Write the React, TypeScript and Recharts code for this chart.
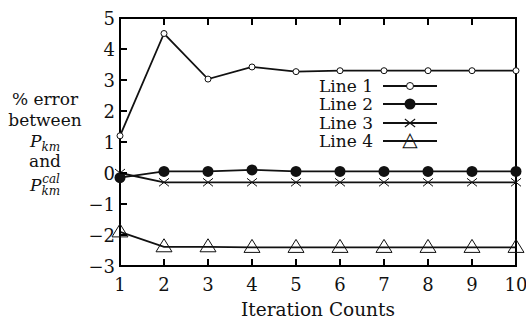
import React from "react";
import { LineChart, Line, XAxis, YAxis, Legend, ReferenceArea } from "recharts";

// iteration counts on the x axis
const iterations = [1, 2, 3, 4, 5, 6, 7, 8, 9, 10];
const line1 = [1.2, 4.5, 3.03, 3.42, 3.27, 3.3, 3.3, 3.3, 3.3, 3.3];
const line2 = [-0.15, 0.05, 0.05, 0.1, 0.05, 0.05, 0.05, 0.05, 0.05, 0.05];
const line3 = [0, -0.3, -0.3, -0.3, -0.3, -0.3, -0.3, -0.3, -0.3, -0.3];
const line4 = [-1.9, -2.38, -2.38, -2.4, -2.4, -2.4, -2.4, -2.4, -2.4, -2.4];
const yTicks = [-3, -2, -1, 0, 1, 2, 3, 4, 5];
const seriesNames = ["Line 1", "Line 2", "Line 3", "Line 4"];

const data = iterations.map((it, i) => ({ it, l1: line1[i], l2: line2[i], l3: line3[i], l4: line4[i] }));

const INK = "#111111";
const FRAME = "black";
const FONT = "'DejaVu Serif', serif";

const Marker = ({ kind, cx, cy }: any) => {
  if (kind === 0) return <circle cx={cx} cy={cy} r={3} fill="#fff" stroke={INK} />;
  if (kind === 1) return <circle cx={cx} cy={cy} r={5.5} fill={INK} />;
  if (kind === 2)
    return <path d={`M${cx - 5},${cy - 4}L${cx + 5},${cy + 4}M${cx - 5},${cy + 4}L${cx + 5},${cy - 4}`} stroke={INK} />;
  return <polygon points={`${cx},${cy - 8} ${cx - 8},${cy + 5} ${cx + 8},${cy + 5}`} fill="none" stroke={INK} />;
};
const dotFor = (kind: number) => (p: any) => <Marker key={`d${kind}-${p.index}`} kind={kind} cx={p.cx} cy={p.cy} />;

const fmt = (v: number) => (v < 0 ? `\u2212${Math.abs(v)}` : `${v}`);

const BottomTick = ({ x, y, payload }: any) => (
  <g>
    <path d={`M${x},${y}V${y - 7}`} stroke={FRAME} strokeWidth={2} />
    <text x={x} y={y + 25} textAnchor="middle" fontSize={18} fontFamily={FONT} fill={INK}>{payload.value}</text>
  </g>
);
const TopTick = ({ x, y }: any) => <path d={`M${x},${y}V${y + 7}`} stroke={FRAME} strokeWidth={2} />;
const LeftTick = ({ x, y, payload }: any) => (
  <g>
    <path d={`M${x},${y}H${x + 7}`} stroke={FRAME} strokeWidth={2} />
    <text x={x - 5} y={y + 6.5} textAnchor="end" fontSize={18} fontFamily={FONT} fill={INK}>{fmt(payload.value)}</text>
  </g>
);
const RightTick = ({ x, y }: any) => <path d={`M${x},${y}H${x - 7}`} stroke={FRAME} strokeWidth={2} />;

// legend samples drawn in HTML
const LegendMark = ({ kind }: { kind: number }) => {
  const centre: React.CSSProperties = { position: "absolute", left: 27, top: 9, transform: "translate(-50%, -50%)" };
  if (kind === 0)
    return <div style={{ ...centre, width: 6, height: 6, borderRadius: "50%", border: `1px solid ${INK}`, background: "#fff" }} />;
  if (kind === 1) return <div style={{ ...centre, width: 11, height: 11, borderRadius: "50%", background: INK }} />;
  if (kind === 2)
    return (
      <>
        <div style={{ ...centre, width: 13, height: 1, background: INK, transform: "translate(-50%, -50%) rotate(38deg)" }} />
        <div style={{ ...centre, width: 13, height: 1, background: INK, transform: "translate(-50%, -50%) rotate(-38deg)" }} />
      </>
    );
  return (
    <div style={{ ...centre, top: 7, fontFamily: "'DejaVu Sans', sans-serif", fontSize: 20, lineHeight: "20px" }}>{"\u25B3"}</div>
  );
};

const LegendBox = () => (
  <div style={{ fontFamily: FONT, fontSize: 17, color: INK }}>
    {seriesNames.map((name, i) => (
      <div key={name} style={{ display: "flex", alignItems: "center", height: 18.3 }}>
        <span style={{ width: 75, textAlign: "right", lineHeight: "18px" }}>{name}</span>
        <div style={{ position: "relative", width: 64, height: 18, marginLeft: 10 }}>
          <div style={{ position: "absolute", left: 0, top: 8, width: 54, height: 2, background: INK }} />
          <LegendMark kind={i} />
        </div>
      </div>
    ))}
  </div>
);

const yLabelLine: React.CSSProperties = {
  position: "absolute",
  left: 0,
  width: 90,
  textAlign: "center",
  fontFamily: FONT,
  fontSize: 17,
  color: INK,
  lineHeight: "20px",
};

const frameLine = { stroke: FRAME, strokeWidth: 2 };

export default function App() {
  return (
    <div style={{ position: "absolute", left: 0, top: 0, width: 526, height: 320, display: "flex" }}>
      <div style={{ position: "relative", width: 526, height: 320 }}>
        <LineChart width={526} height={320} data={data} margin={{ top: 17, right: 9, bottom: 24, left: 90 }}>
          <XAxis dataKey="it" type="number" domain={[1, 10]} ticks={iterations} interval={0} height={30}
            tickSize={0} tickMargin={0} tick={<BottomTick />} axisLine={frameLine} />
          <XAxis xAxisId="top" dataKey="it" type="number" orientation="top" domain={[1, 10]} ticks={iterations}
            interval={0} height={1} tickSize={0} tickMargin={0} tick={<TopTick />} axisLine={frameLine} />
          <YAxis domain={[-3, 5]} ticks={yTicks} interval={0} width={30} tickSize={0} tickMargin={0}
            tick={<LeftTick />} axisLine={frameLine} />
          <YAxis yAxisId="right" orientation="right" domain={[-3, 5]} ticks={yTicks} interval={0} width={1}
            tickSize={0} tickMargin={0} tick={<RightTick />} axisLine={frameLine} />
          <ReferenceArea x1={1} x2={10} y1={-3} y2={5} fill="none" stroke={FRAME} strokeWidth={2} />
          <Legend layout="vertical" align="center" verticalAlign="middle" content={() => <LegendBox />}
            wrapperStyle={{ position: "absolute", left: 298, top: 77, width: 150 }} />
          <Line dataKey="l1" stroke={INK} strokeWidth={1.8} dot={dotFor(0)} isAnimationActive={false} />
          <Line dataKey="l2" stroke={INK} strokeWidth={1.8} dot={dotFor(1)} isAnimationActive={false} />
          <Line dataKey="l3" stroke={INK} strokeWidth={1.8} dot={dotFor(2)} isAnimationActive={false} />
          <Line dataKey="l4" stroke={INK} strokeWidth={1.8} dot={dotFor(3)} isAnimationActive={false} />
        </LineChart>
        <div style={{ ...yLabelLine, top: 89 }}>% error</div>
        <div style={{ ...yLabelLine, top: 110 }}>between</div>
        <div style={{ ...yLabelLine, top: 131, fontStyle: "italic" }}>
          P<sub style={{ fontSize: 12 }}>km</sub>
        </div>
        <div style={{ ...yLabelLine, top: 151 }}>and</div>
        <div style={{ ...yLabelLine, top: 169, fontStyle: "italic" }}>
          P<sub style={{ fontSize: 12, verticalAlign: "-4px" }}>km</sub>
          <sup style={{ fontSize: 12, marginLeft: -18, verticalAlign: "8px" }}>cal</sup>
        </div>
        <div style={{ position: "absolute", left: 120, width: 396, top: 300, textAlign: "center",
          fontFamily: FONT, fontSize: 18.5, lineHeight: "20px", color: INK }}>
          Iteration Counts
        </div>
      </div>
    </div>
  );
}
